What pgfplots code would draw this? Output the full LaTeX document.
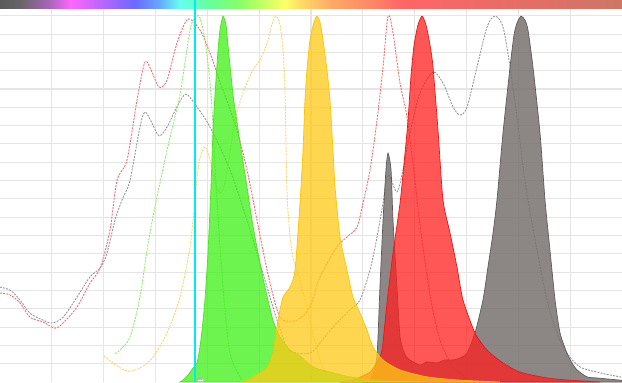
\documentclass[border=0pt]{standalone}
\usepackage{pgfplots}
\pgfplotsset{compat=1.18}
\definecolor{gridc}{RGB}{229,229,229}
\definecolor{exred}{RGB}{255,105,105}
\definecolor{exgray}{RGB}{150,150,150}
\definecolor{exgreen}{RGB}{140,238,100}
\definecolor{exyellow}{RGB}{255,212,100}
\definecolor{emgreen}{RGB}{60,240,20}
\definecolor{emgreenline}{RGB}{80,225,30}
\definecolor{emyellow}{RGB}{255,200,20}
\definecolor{emyellowline}{RGB}{255,195,0}
\definecolor{emred}{RGB}{255,30,30}
\definecolor{emredline}{RGB}{240,20,20}
\definecolor{emgray}{RGB}{120,114,110}
\definecolor{emgrayline}{RGB}{95,90,88}
\definecolor{laser}{RGB}{0,236,245}
\definecolor{rb0}{HTML}{5A5A5A}
\definecolor{rb1}{HTML}{666666}
\definecolor{rb2}{HTML}{AA66BB}
\definecolor{rb3}{HTML}{FF66FF}
\definecolor{rb4}{HTML}{BB66FF}
\definecolor{rb5}{HTML}{6A6AFF}
\definecolor{rb6}{HTML}{66AAFF}
\definecolor{rb7}{HTML}{66FFEE}
\definecolor{rb8}{HTML}{66FF99}
\definecolor{rb9}{HTML}{88FF66}
\definecolor{rb10}{HTML}{FFFF66}
\definecolor{rb11}{HTML}{FFDD66}
\definecolor{rb12}{HTML}{FFAA66}
\definecolor{rb13}{HTML}{FF8866}
\definecolor{rb14}{HTML}{FF6666}
\definecolor{rb15}{HTML}{EE6A66}
\definecolor{rb16}{HTML}{DD7066}
\definecolor{rb17}{HTML}{CC7766}
\pgfdeclarehorizontalshading{rainbow}{100bp}{color(0bp)=(rb0); color(25bp)=(rb0); color(26.6bp)=(rb1); color(29bp)=(rb2); color(30.65bp)=(rb3); color(33.05bp)=(rb4); color(35.85bp)=(rb5); color(37.85bp)=(rb6); color(39.45bp)=(rb7); color(41.9bp)=(rb8); color(44.3bp)=(rb9); color(47.9bp)=(rb10); color(49.1bp)=(rb11); color(51.55bp)=(rb12); color(54.75bp)=(rb13); color(57.15bp)=(rb14); color(63.6bp)=(rb15); color(70bp)=(rb16); color(75bp)=(rb17); color(100bp)=(rb17)}
\begin{document}
\begin{tikzpicture}
\begin{axis}[
  width=622bp, height=382bp, scale only axis,
  xmin=300, xmax=900, ymin=0, ymax=104.3,
  axis line style={draw=none},
  xtick={350,400,...,850}, ytick={5,10,...,100},
  xticklabels={}, yticklabels={},
  tick style={draw=none},
  grid=major, major grid style={color=gridc, line width=1.1bp},
  clip=true,
]
\coordinate (SW) at (rel axis cs:0,0);
\coordinate (NE) at (rel axis cs:1,1);
\coordinate (LA) at (axis cs:488,95);
\coordinate (LB) at (axis cs:488,104.3);
% ---- excitation spectra (dashed) ----
\addplot[exgray, line width=0.9bp, dash pattern=on 2bp off 1.2bp, smooth, tension=0.5] coordinates {
(300,25.9)(309.6,25.1)(319.3,22.4)(328.9,18.8)(341.5,16.9)(350.2,16.1)(360.8,17.7)(374.3,23.2)(386.8,28.7)(396.5,31.1)(403.2,35.2)(410.9,44.2)(417.7,49.7)(425.4,55.1)(435.0,69.6)(439.9,73.7)(446.6,70.7)(453.4,67.2)(461.1,69.6)(470.7,75.1)(479.4,78.6)(490.0,75.1)(502.6,69.6)(521.9,57.9)(538.3,44.2)(547.9,35.2)(557.6,25.9)(567.2,16.9)(576.8,9.6)(586.5,7.9)(599.0,7.9)(605.8,9.6)(621.2,15.0)(637.6,19.7)(647.3,22.4)(656.9,30.6)(663.7,39.6)(669.5,48.9)(674.3,56.5)(682.9,51.9)(688.7,57.9)(695.5,68.0)(705.1,78.9)(717.7,84.6)(727.3,81.6)(737.0,75.1)(743.7,72.9)(750.5,75.1)(760.1,86.0)(769.8,96.9)(777.5,99.9)(785.2,96.9)(792.0,86.0)(798.7,72.3)(804.5,58.7)(809.3,49.7)(818.0,36.0)(827.6,22.4)(837.3,13.4)(846.9,7.9)(859.5,4.1)(878.8,2.5)(898.1,1.4)(900,1.3)};
\addplot[exred, line width=0.9bp, dash pattern=on 2bp off 1.2bp, smooth, tension=0.5] coordinates {
(300,24.3)(309.6,23.8)(319.3,21.6)(328.9,17.7)(341.5,16.4)(353.1,14.7)(360.8,16.1)(374.3,20.5)(386.8,27.0)(396.5,31.1)(406.1,41.5)(412.9,55.1)(422.5,60.6)(432.2,77.0)(439.9,87.4)(446.6,84.6)(453.4,80.5)(461.1,82.4)(470.7,92.5)(481.3,99.1)(492.9,96.1)(502.6,89.8)(512.2,82.0)(519.9,76.0)(528.6,68.8)(538.3,57.9)(547.9,44.2)(557.6,30.6)(567.2,19.7)(573.0,16.9)(586.5,16.9)(599.0,20.5)(608.7,28.7)(625.1,36.9)(634.7,39.6)(644.4,42.3)(650.2,48.9)(656.9,57.9)(663.7,71.5)(669.5,86.0)(674.3,99.9)(679.1,95.3)(685.9,81.6)(692.6,72.3)(700.3,55.1)(705.1,42.9)(714.8,23.8)(724.4,11.5)(737.0,4.1)(753.4,0.5)};
\addplot[exgreen, line width=0.9bp, dash pattern=on 2bp off 1.2bp, smooth, tension=0.5] coordinates {
(410.9,7.9)(413.8,8.2)(425.4,12.3)(435.0,23.2)(441.8,36.0)(446.6,43.7)(451.4,50.5)(454.3,54.3)(461.1,63.3)(466.9,70.2)(473.6,78.4)(478.5,87.4)(483.3,96.1)(486.2,98.8)(490.0,99.9)(492.9,99.4)(497.7,93.4)(502.6,81.6)(505.5,69.6)(509.3,49.7)(515.1,25.9)(521.9,7.9)(533.4,0.5)};
\addplot[exyellow, line width=0.9bp, dash pattern=on 2bp off 1.2bp, smooth, tension=0.5] coordinates {
(400.3,7.1)(409.0,5.2)(422.5,3.0)(435.0,3.8)(447.6,6.8)(461.1,13.4)(473.6,23.2)(483.3,36.9)(487.1,47.0)(490.0,55.7)(492.9,61.2)(497.7,64.2)(502.6,60.6)(507.4,54.6)(512.2,51.6)(517.0,54.3)(521.9,62.8)(526.7,71.5)(534.4,78.9)(544.0,85.2)(550.8,87.9)(557.6,92.5)(562.4,97.7)(566.2,99.9)(570.1,97.5)(573.0,90.6)(574.9,79.7)(576.8,52.4)(579.7,40.1)(582.6,33.9)(586.5,30.0)(589.4,27.8)(594.2,22.4)(599.0,16.4)(603.9,10.9)(608.7,6.0)(615.4,1.4)};
% ---- emission spectra (filled) ----
\addplot[draw=emgrayline, line width=0.7bp, fill=emgray, fill opacity=0.85, smooth, tension=0.4] coordinates {
(652.1,0)(658.8,1.1)(663.7,7.4)(666.5,25.9)(669.5,44.2)(672.3,57.9)(674.3,62.5)(677.2,57.9)(679.1,44.2)(682.9,25.9)(685.9,12.3)(690.7,7.4)(695.5,6.0)(705.1,4.6)(712,5.5)(721.5,5.2)(729,6.0)(737.0,6.0)(744,6.6)(750.5,7.9)(758.2,13.4)(765.9,22.4)(770.7,31.4)(775.6,40.7)(779.4,49.7)(785.2,68.0)(792.0,86.0)(795.8,94.7)(798.7,98.0)(802.6,99.9)(806.4,98.8)(809.3,96.1)(814.1,86.0)(820.9,68.0)(825.7,49.7)(830.5,36.0)(835.4,22.4)(840.2,13.4)(846.9,7.9)(851.8,5.2)(856.6,3.3)(866.2,1.4)(875.9,1.1)(898.1,0.5)(900,0.4)} \closedcycle;
\addplot[draw=emredline, line width=0.7bp, fill=emred, fill opacity=0.75, smooth, tension=0.4] coordinates {
(628.0,0)(642.4,0.8)(656.9,2.7)(663.7,5.5)(668.5,8.7)(673.3,21.6)(679.1,35.2)(685.9,48.9)(690.7,62.5)(693.6,71.5)(696.5,83.8)(699.4,92.0)(703.2,97.5)(707.1,99.9)(710.9,97.5)(714.8,92.0)(717.7,86.0)(722.5,68.8)(727.3,49.7)(734.1,40.7)(740.8,31.4)(746.6,22.4)(758.2,13.4)(769.8,8.7)(785.2,5.2)(801.6,2.7)(827.6,1.1)(849.8,0.5)(878.8,0)} \closedcycle;
\addplot[draw=emgreenline, line width=0.7bp, fill=emgreen, fill opacity=0.75, smooth, tension=0.4] coordinates {
(473.6,0)(476.5,0.5)(481.3,1.9)(486.2,3.8)(490.0,5.2)(492.9,9.6)(494.9,14.2)(497.7,22.4)(500.6,35.2)(503.5,53.2)(505.5,68.8)(507.4,78.4)(510.3,90.6)(512.2,96.1)(515.1,99.9)(518.0,97.5)(519.9,92.0)(524.8,78.4)(528.6,71.0)(533.4,62.0)(538.3,53.2)(543.1,44.2)(548.9,35.2)(555.6,25.9)(563.3,16.9)(570.1,12.3)(579.7,8.7)(589.4,7.1)(601.9,4.1)(621.2,2.5)(637.6,1.4)(666.5,0.3)(705.1,0)} \closedcycle;
\addplot[draw=emyellowline, line width=0.7bp, fill=emyellow, fill opacity=0.75, smooth, tension=0.4] coordinates {
(531.5,0)(538.3,0.5)(550.8,2.5)(558.5,4.4)(563.3,7.9)(568.2,16.9)(573.0,23.2)(579.7,25.9)(584.6,30.6)(589.4,48.9)(592.3,63.3)(594.2,77.0)(596.1,85.2)(599.0,93.4)(602.9,98.3)(605.8,99.9)(608.7,98.3)(611.6,93.4)(615.4,85.2)(618.3,77.0)(621.2,63.3)(623.2,53.2)(628.0,39.6)(634.7,30.6)(640.5,23.2)(647.3,18.8)(654.0,14.2)(659.8,9.6)(669.5,6.0)(685.9,3.3)(711.9,1.4)(743.7,0.5)(782.3,0)} \closedcycle;
% ---- laser line ----
\addplot[laser, line width=2.3bp] coordinates {(488,0) (488,104.3)};
\node[font=\fontsize{2.5}{2.5}\selectfont, fill=white!85!gray, draw=gray!50, line width=0.3bp, inner sep=0.5bp, anchor=south west, text=gray!70!black] at (axis cs:489.8,0.15) {488};
\end{axis}
\pgfresetboundingbox
\path[use as bounding box] (SW) rectangle (NE);
% rainbow bar, with the laser line running through it
\shade[shading=rainbow] (SW |- NE) ++(0,-9bp) rectangle (NE);
\draw[laser, line width=2.3bp] (LA) -- (LB);
\end{tikzpicture}
\end{document}
